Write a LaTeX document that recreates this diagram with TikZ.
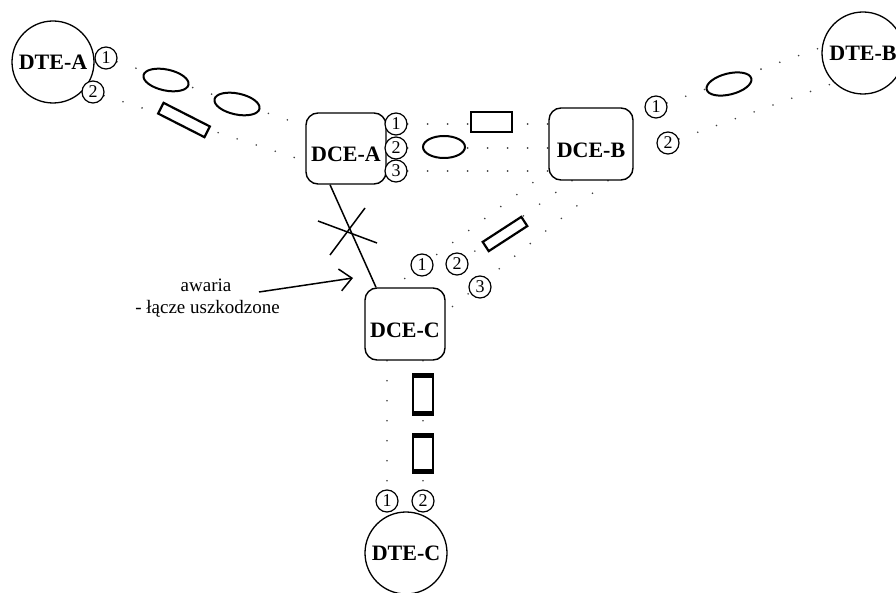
\documentclass[tikz,border=0pt]{standalone}
\usepackage{fontspec}
\setmainfont{Liberation Serif}
\usetikzlibrary{shapes.geometric,arrows.meta,backgrounds}

\begin{document}
\begin{tikzpicture}[x=1pt,y=-1pt,
  dotline/.style={draw=black!75, line width=1.8pt, dash pattern=on 0pt off 20pt, line cap=round},
  link/.style={draw=black, line width=1.5pt},
  station/.style={circle, draw, line width=1.3pt, fill=white, minimum size=82pt, inner sep=0pt,
    font=\fontsize{22}{24}\selectfont\bfseries},
  dcebox/.style={rectangle, rounded corners=12pt, draw, line width=1.4pt, fill=white, inner sep=0pt,
    font=\fontsize{22}{24}\selectfont\bfseries, text height=27pt, text depth=0pt},
  port/.style={circle, draw, line width=1.2pt, fill=white, minimum size=22pt, inner sep=0pt,
    font=\fontsize{18}{18}\selectfont},
  lens/.style={ellipse, draw, line width=2pt, fill=white, minimum width=46pt, minimum height=21pt, inner sep=0pt},
  slab/.style={rectangle, draw, line width=2.2pt, fill=white, inner sep=0pt},
  tray/.style={rectangle, draw, line width=1.4pt, fill=white, inner sep=0pt, minimum width=20pt},
  band/.style={line width=4.5pt, line cap=butt},
  note/.style={font=\fontsize{19}{22}\selectfont, inner sep=0pt},
]
\useasboundingbox (0,0) rectangle (896,593);
\clip (0,0) rectangle (896,593);

% terminals
\node[station] (dteA) at (53,62) {DTE-A};
\node[station] (dteB) at (863,53) {DTE-B};
\node[station] (dteC) at (406,553) {DTE-C};

% switching equipment
\node[dcebox, minimum width=80pt, minimum height=71pt] (dceA) at (346,148.5) {DCE-A};
\node[dcebox, minimum width=84pt, minimum height=72pt] (dceB) at (591,144) {DCE-B};
\node[dcebox, minimum width=80pt, minimum height=72pt] (dceC) at (405,324) {DCE-C};

% ports
\node[port] (pA1) at (106,58) {1};
\node[port] (pA2) at (93,92) {2};
\node[port] (pDA1) at (396,124) {1};
\node[port] (pDA2) at (396,148) {2};
\node[port] (pDA3) at (396,171) {3};
\node[port] (pB1) at (656,107) {1};
\node[port] (pB2) at (668,143) {2};
\node[port] (pC1) at (422,265) {1};
\node[port] (pC2) at (457,264) {2};
\node[port] (pC3) at (480,287) {3};
\node[port] (pT1) at (387,501) {1};
\node[port] (pT2) at (423,501) {2};

% packets on the links
\node[lens, rotate=-12] (eA1) at (166,80) {};
\node[lens, rotate=-12] (eA2) at (237,104) {};
\node[slab, minimum width=52pt, minimum height=12pt, rotate=-27] (rA) at (184,120) {};
\node[lens, minimum width=42pt, minimum height=22pt] (eAB) at (444,147) {};
\node[slab, minimum width=41pt, minimum height=20pt] (rAB) at (491.5,122) {};
\node[lens, rotate=14] (eB) at (729,84) {};
\node[slab, minimum width=46pt, minimum height=11pt, rotate=33] (rBC) at (505,234) {};
\node[tray, minimum height=41pt] (rC1) at (423,394.5) {};
\node[tray, minimum height=39pt] (rC2) at (423,453.5) {};
\foreach \t in {rC1,rC2}{
  \draw[band] ([yshift=-2pt]\t.north west) -- ([yshift=-2pt]\t.north east);
  \draw[band] ([yshift=2pt]\t.south west) -- ([yshift=2pt]\t.south east);
}

% virtual circuits
\begin{scope}[on background layer]
  \draw[dotline] (pA1) -- ([yshift=22.5pt]dceA.west);
  \draw[dotline] (pA2) -- ([yshift=-12.5pt]dceA.west);
  \draw[dotline] (pDA1) -- (dceB.west |- pDA1);
  \draw[dotline] (pDA2) -- (dceB.west |- pDA2);
  \draw[dotline] (pDA3) -- (dceB.west |- pDA3) -- ([xshift=-12pt]dceC.north);
  \draw[dotline] ([xshift=-19pt]dceB.south) -- (pC2);
  \draw[dotline] ([xshift=17pt]dceB.south) -- ([yshift=12pt]dceC.east);
  \draw[dotline] (pB1) -- (dteB.172);
  \draw[dotline] (pB2) -- (dteB.226);
  \draw[dotline] ([xshift=-18pt]dceC.south) -- (pT1);
  \draw[dotline] ([xshift=18pt]dceC.south) -- (pT2);
\end{scope}

% broken physical link
\draw[link] ([xshift=-16pt]dceA.south) -- ([xshift=-29pt]dceC.north);
\coordinate (cut) at (347,232);
\draw[link] ([shift={(-29,-11)}]cut) -- ([shift={(30,11)}]cut);
\draw[link] ([shift={(18,-24)}]cut) -- ([shift={(-17,23)}]cut);

% annotation
\node[note, anchor=base] (note1) at (206,292) {awaria};
\node[note, anchor=base east] (note2) at (280,314) {- łącze uszkodzone};
\coordinate (arrowtail) at (259,292);
\coordinate (arrowtip) at (353,278);
\draw[link, -{Straight Barb[length=12pt,width=22pt]}] (arrowtail) -- (arrowtip);
\end{tikzpicture}
\end{document}
